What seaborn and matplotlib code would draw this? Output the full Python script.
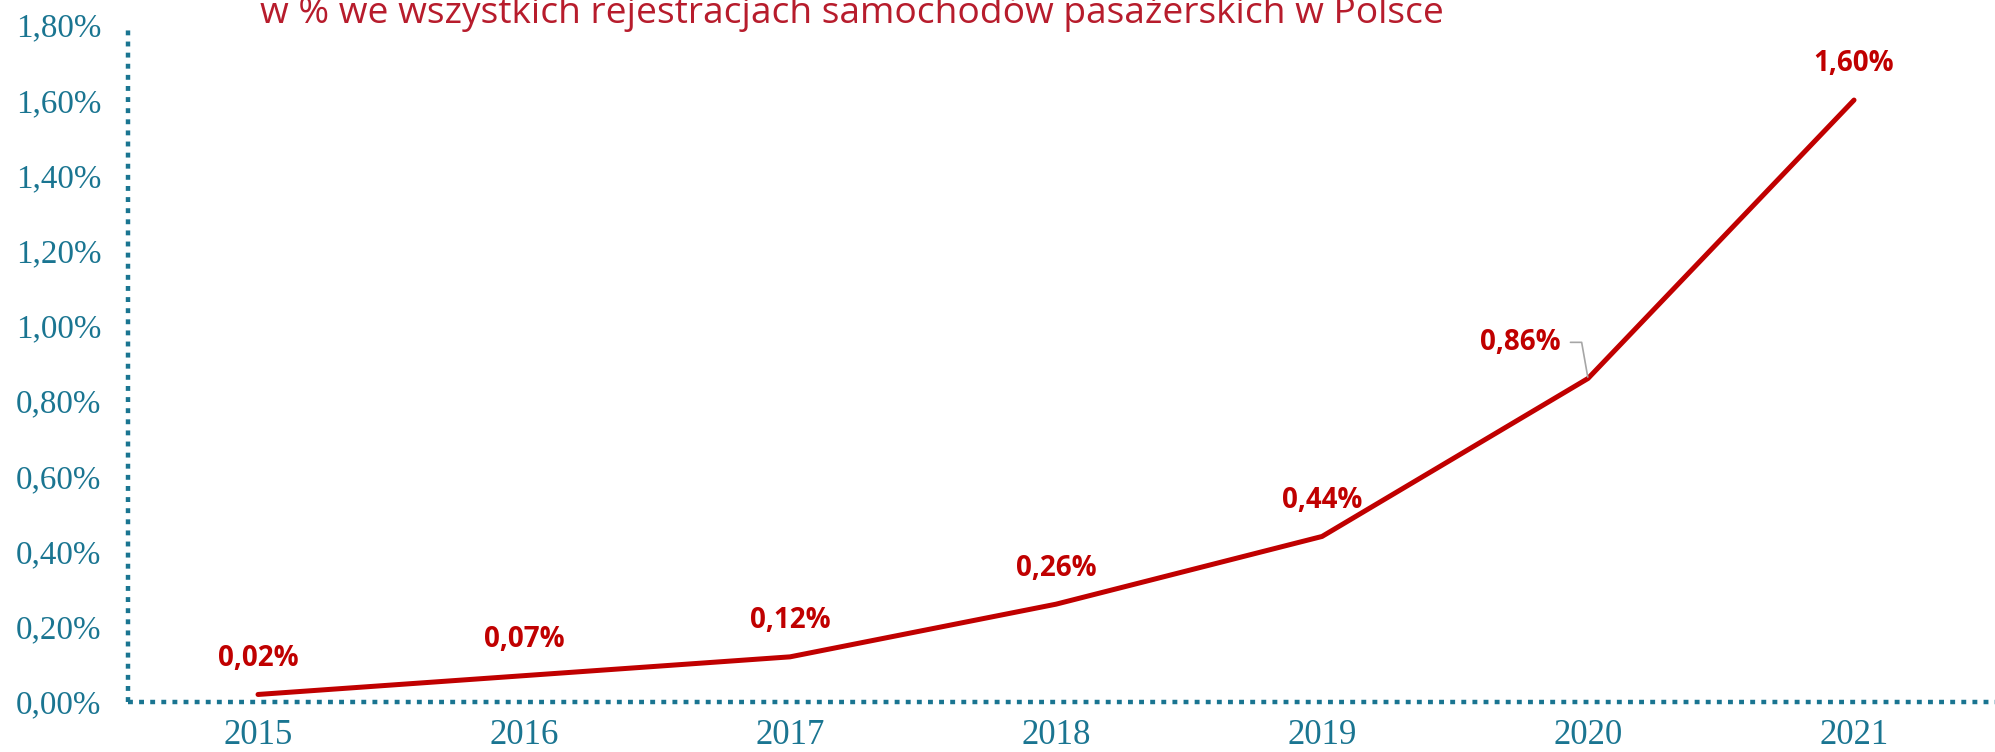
import numpy as np
import pandas as pd
import matplotlib
matplotlib.use("Agg")
import matplotlib.pyplot as plt
import seaborn as sns

# data
lata = ["2015", "2016", "2017", "2018", "2019", "2020", "2021"]
udzial = [0.02, 0.07, 0.12, 0.26, 0.44, 0.86, 1.60]
y_ticks = [0.0, 0.2, 0.4, 0.6, 0.8, 1.0, 1.2, 1.4, 1.6, 1.8]
tytul = "w % we wszystkich rejestracjach samochodów pasażerskich w Polsce"

RED = "#C00000"
TEAL = "#1A7591"

sns.set_theme(style="white")
plt.rcParams["font.family"] = ["DejaVu Sans"]

df = pd.DataFrame({"rok": lata, "udzial": udzial})

fig = plt.figure(figsize=(19.95, 7.52), dpi=100)
ax = fig.add_axes([0.064, 0.0665, 0.936, 0.9005])

sns.lineplot(data=df, x="rok", y="udzial", ax=ax, color=RED, linewidth=3.6,
             solid_capstyle="round", sort=False)

ax.set_xlim(-0.49, 6.53)
ax.set_ylim(0, 1.8)
ax.set_yticks(y_ticks)
ax.set_yticklabels([f"{v:.2f}%".replace(".", ",") for v in y_ticks])
ax.set_xlabel("")
ax.set_ylabel("")

for lbl in ax.get_xticklabels():
    lbl.set_fontfamily("Liberation Serif")
    lbl.set_fontsize(25)
    lbl.set_color(TEAL)
for lbl in ax.get_yticklabels():
    lbl.set_fontfamily("Liberation Serif")
    lbl.set_fontsize(23.8)
    lbl.set_color(TEAL)
ax.tick_params(axis="y", length=0, pad=19)
ax.tick_params(axis="x", length=0, pad=12)

for side in ["top", "right"]:
    ax.spines[side].set_visible(False)
for side in ["left", "bottom"]:
    sp = ax.spines[side]
    sp.set_visible(True)
    sp.set_color(TEAL)
    sp.set_linewidth(3.2)
    sp.set_linestyle((0, (1.1, 1.4)))
    sp.set_capstyle("butt")
ax.grid(False)

# data labels
for i, v in enumerate(udzial):
    txt = f"{v:.2f}%".replace(".", ",")
    if lata[i] == "2020":
        ax.annotate(txt, xy=(i, v), xytext=(-20, 26), textcoords="offset points",
                    ha="right", va="center", fontsize=20, fontweight="bold",
                    color=RED, fontfamily="Open Sans",
                    arrowprops=dict(arrowstyle="-", color="#A6A6A6", lw=1.2,
                                    shrinkA=5, shrinkB=1,
                                    connectionstyle="angle,angleA=0,angleB=100,rad=0"))
    else:
        ax.annotate(txt, xy=(i, v), xytext=(0, 26), textcoords="offset points",
                    ha="center", va="center", fontsize=20, fontweight="bold",
                    color=RED, fontfamily="Open Sans")

fig.text(0.427, 0.969, tytul, ha="center", va="baseline", fontsize=26.7,
         color="#B71C2C", fontfamily="Open Sans")

fig.savefig("out.png", dpi=100)
